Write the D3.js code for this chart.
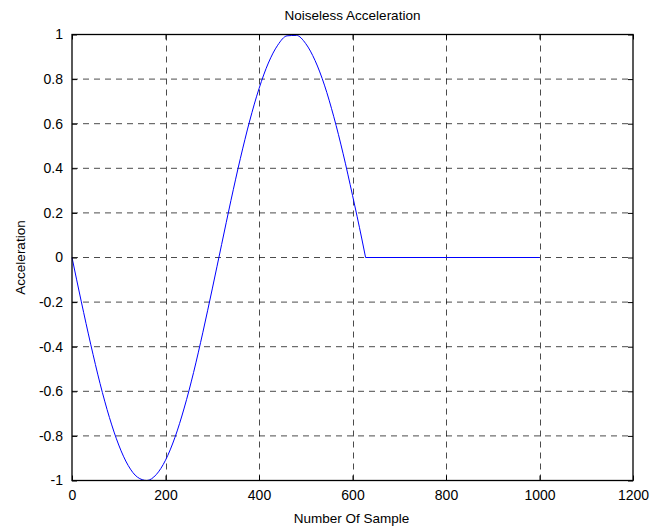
<!DOCTYPE html>
<html><head><meta charset="utf-8">
<script src="https://cdn.jsdelivr.net/npm/d3@7"></script>
<style>body{margin:0;background:#fff}svg{display:block}text{font-family:"Liberation Sans",Arial,sans-serif;fill:#000}</style>
</head><body>
<script>
const sampleIndex = [0,20,40,60,80,100,120,140,160,180,200,220,240,260,280,300,320,340,360,380,400,420,440,460,480,500,520,540,560,580,600,620,628,1000];
const acceleration = [0,-0.199,-0.389,-0.565,-0.717,-0.841,-0.932,-0.985,-1.0,-0.974,-0.909,-0.808,-0.675,-0.516,-0.335,-0.141,0.058,0.256,0.443,0.612,0.757,0.872,0.952,0.994,0.996,0.959,0.883,0.773,0.631,0.465,0.279,0.083,0,0];
const xTicks = [0,200,400,600,800,1000,1200];
const yTicks = [-1,-0.8,-0.6,-0.4,-0.2,0,0.2,0.4,0.6,0.8,1];
const titleText = "Noiseless Acceleration";
const xLabel = "Number Of Sample";
const yLabel = "Acceleration";

const W=654,H=532, L=72, R=633, T=34.5, B=480.5;
const svg=d3.select("body").append("svg").attr("width",W).attr("height",H);
const x=d3.scaleLinear().domain([0,1200]).range([L,R]);
const y=d3.scaleLinear().domain([-1,1]).range([B,T]);

const g=svg.append("g");
g.selectAll(".gx").data(xTicks.slice(1,-1)).join("line")
 .attr("x1",d=>Math.round(x(d))+0.5).attr("x2",d=>Math.round(x(d))+0.5).attr("y1",T).attr("y2",B)
 .attr("stroke","#000").attr("stroke-width",1).attr("stroke-dasharray","6,5").attr("opacity",0.7);
g.selectAll(".gy").data(yTicks.slice(1,-1)).join("line")
 .attr("y1",d=>y(d)).attr("y2",d=>y(d)).attr("x1",L).attr("x2",R)
 .attr("stroke","#000").attr("stroke-width",1).attr("stroke-dasharray","6,5").attr("opacity",0.7);

const pts=sampleIndex.map((s,i)=>[s,acceleration[i]]);
const line=d3.line().x(d=>x(d[0])).y(d=>y(d[1])).curve(d3.curveMonotoneX);
svg.append("path").attr("d",line(pts.slice(0,33))).attr("fill","none").attr("stroke","#0000ff").attr("stroke-width",1);
svg.append("path").attr("d",d3.line().x(d=>x(d[0])).y(d=>y(d[1]))(pts.slice(32))).attr("fill","none").attr("stroke","#0000ff").attr("stroke-width",1);

const xa=d3.axisBottom(x).tickValues(xTicks).tickSize(-5).tickPadding(10).tickFormat(d3.format("d"));
const xa2=d3.axisTop(x).tickValues(xTicks).tickSize(-5).tickFormat("");
const ya=d3.axisLeft(y).tickValues(yTicks).tickSize(-5).tickPadding(9).tickFormat(d=>String(d));
const ya2=d3.axisRight(y).tickValues(yTicks).tickSize(-5).tickFormat("");
function style(sel){sel.selectAll("line").attr("stroke","#000");sel.selectAll("text").attr("font-size","14px").attr("font-family","'Liberation Sans',Arial,sans-serif").attr("fill","#000");}
svg.append("g").attr("transform",`translate(0,${B})`).call(xa).call(style);
svg.append("g").attr("transform",`translate(0,${T})`).call(xa2).call(style);
svg.append("g").attr("transform",`translate(${L},0)`).call(ya).call(style);
svg.append("g").attr("transform",`translate(${R},0)`).call(ya2).call(style);
svg.selectAll(".domain").remove();
svg.append("rect").attr("x",L).attr("y",T).attr("width",R-L).attr("height",B-T).attr("fill","none").attr("stroke","#000").attr("stroke-width",1.3);

svg.append("text").attr("x",(L+R)/2).attr("y",20).attr("text-anchor","middle").attr("font-size","13.5px").text(titleText);
svg.append("text").attr("x",(L+R)/2 - 1).attr("y",523).attr("text-anchor","middle").attr("font-size","13.5px").text(xLabel);
svg.append("text").attr("transform",`translate(25,${(T+B)/2}) rotate(-90)`).attr("text-anchor","middle").attr("font-size","13.5px").text(yLabel);
</script>
</body></html>
